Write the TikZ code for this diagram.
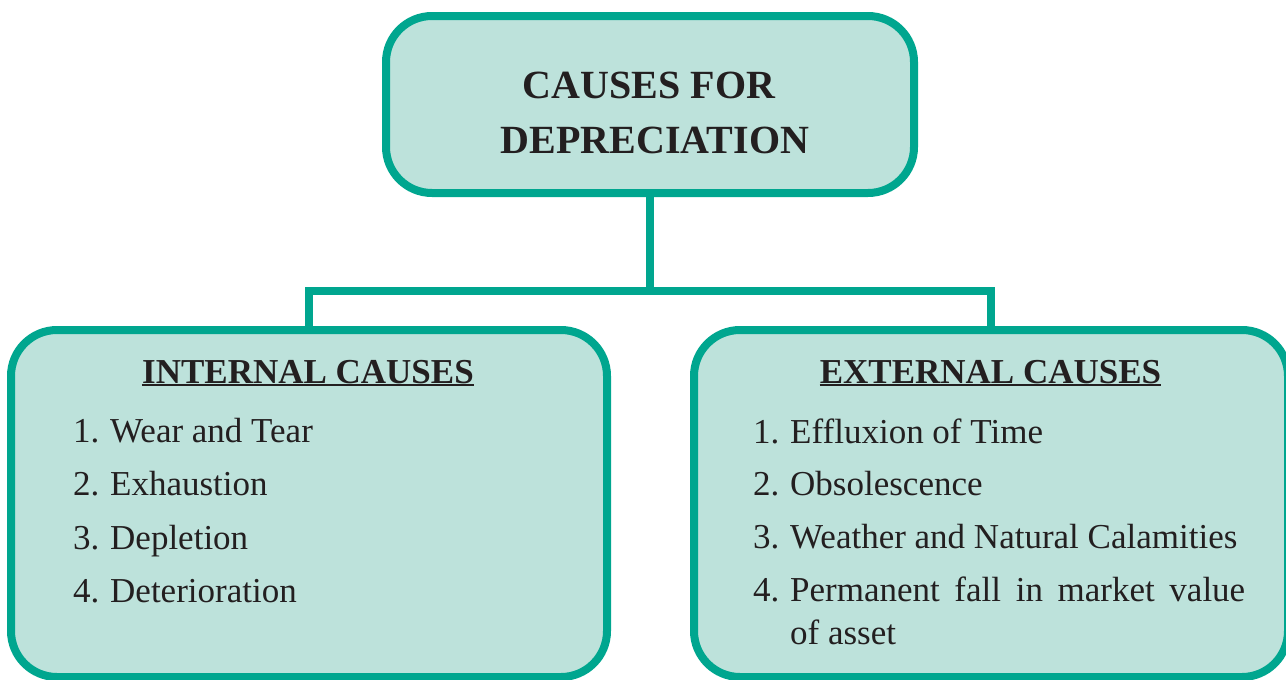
\documentclass[tikz,border=0pt]{standalone}
\usepackage{fontspec}
\setmainfont{Liberation Serif}
\definecolor{tealline}{RGB}{0,166,143}
\definecolor{tealfill}{RGB}{189,226,219}
\definecolor{inktext}{RGB}{35,31,32}
\newcommand{\numitem}[2]{\makebox[37pt][l]{#1}#2}

\begin{document}
\begin{tikzpicture}[x=1pt,y=-1pt,
    causebox/.style={draw=tealline,fill=tealfill,line width=8pt,rounded corners=46pt,inner sep=0pt},
    link/.style={draw=tealline,line width=8pt},
    uline/.style={draw=inktext,line width=1.8pt},
    titletext/.style={inner sep=0pt,anchor=base,text=inktext,font=\fontsize{40}{55}\selectfont\bfseries},
    headtext/.style={inner sep=0pt,anchor=base,text=inktext,font=\fontsize{35}{42}\selectfont\bfseries},
    itemtext/.style={inner sep=0pt,anchor=base west,text=inktext,font=\fontsize{35}{43}\selectfont}]
  \useasboundingbox (0,0) rectangle (1286,680);
  % the three boxes
  \node[causebox,minimum width=528pt,minimum height=177pt] (main) at (650,104.5) {};
  \node[causebox,minimum width=596pt,minimum height=347pt] (internal) at (309,503.5) {};
  \node[causebox,minimum width=594pt,minimum height=347pt] (external) at (991,503.5) {};
  % connectors
  \draw[link] (main.south) -- ++(0,94) coordinate (split);
  \draw[link] (internal.north) |- (split) -| (external.north);
  % title
  \node[titletext] (titleA) at (649,98) {CAUSES FOR};
  \node[titletext] (titleB) at (655,153) {DEPRECIATION};
  % headings
  \node[headtext] (inthead) at (308,383) {INTERNAL CAUSES};
  \node[headtext] (exthead) at (990.5,383) {EXTERNAL CAUSES};
  \draw[uline] ([yshift=-2pt]inthead.base west) -- ([yshift=-2pt]inthead.base east);
  \draw[uline] ([yshift=-2pt]exthead.base west) -- ([yshift=-2pt]exthead.base east);
  % internal list
  \node[itemtext] (int1) at (73,442) {\numitem{1.}{Wear and Tear}};
  \node[itemtext] (int2) at (73,495) {\numitem{2.}{Exhaustion}};
  \node[itemtext] (int3) at (73,549) {\numitem{3.}{Depletion}};
  \node[itemtext] (int4) at (73,602) {\numitem{4.}{Deterioration}};
  % external list
  \node[itemtext] (ext1) at (753,443) {\numitem{1.}{Effluxion of Time}};
  \node[itemtext] (ext2) at (753,495) {\numitem{2.}{Obsolescence}};
  \node[itemtext] (ext3) at (753,548) {\numitem{3.}{Weather and Natural Calamities}};
  \node[itemtext] (ext4) at (753,601)
    {\numitem{4.}{\parbox[t]{455pt}{Permanent fall in market value\linebreak of asset}}};
\end{tikzpicture}
\end{document}
